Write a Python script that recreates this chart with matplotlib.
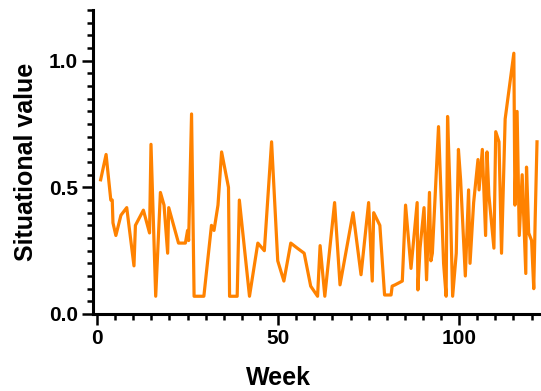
import matplotlib
matplotlib.use("Agg")
import matplotlib.pyplot as plt
from matplotlib.ticker import MultipleLocator

plt.rcParams['font.family'] = ['Liberation Sans', 'DejaVu Sans']
plt.rcParams['font.weight'] = 'bold'

# data
week = [1, 2.5, 3.8, 4.2, 4.4, 5.2, 6.6, 8.2, 10.2, 10.6, 12.8, 14.5, 14.9, 16.2,
        17.5, 18.5, 19.5, 19.8, 22.5, 24.4, 25.0, 25.3, 26.1, 26.8, 29.5, 31.6,
        32.3, 33.4, 34.4, 36.3, 36.6, 38.7, 39.3, 42.1, 44.4, 46.2, 48.2, 49.9,
        51.6, 53.5, 55.3, 57.2, 59.0, 60.9, 61.6, 62.9, 65.6, 67.1, 70.7, 72.9,
        75.0, 76.0, 76.4, 78.1, 79.4, 81.2, 81.5, 82.3, 84.3, 85.2, 86.7, 88.4,
        88.6, 89.2, 90.3, 91.0, 91.8, 92.2, 92.6, 94.3, 95.7, 96.4, 96.8, 97.5,
        98.2, 99.2, 99.8, 100.4, 101.7, 102.6, 103.0, 104.0, 105.2, 105.5, 106.4,
        107.3, 107.7, 108.2, 109.6, 110.1, 111.0, 111.7, 112.7, 115.1, 115.4,
        116.0, 116.6, 117.4, 118.4, 118.6, 119.2, 120.0, 120.6, 121.0, 121.5]
value = [0.53, 0.63, 0.45, 0.45, 0.36, 0.31, 0.39, 0.42, 0.19, 0.35, 0.41, 0.32, 0.67, 0.07,
         0.48, 0.43, 0.24, 0.42, 0.28, 0.28, 0.33, 0.29, 0.79, 0.07, 0.07, 0.35,
         0.33, 0.43, 0.64, 0.50, 0.07, 0.07, 0.45, 0.07, 0.28, 0.25, 0.68, 0.21,
         0.13, 0.28, 0.26, 0.24, 0.11, 0.07, 0.27, 0.07, 0.44, 0.115, 0.40, 0.155,
         0.44, 0.13, 0.40, 0.35, 0.075, 0.075, 0.11, 0.115, 0.13, 0.43, 0.18, 0.44,
         0.095, 0.26, 0.42, 0.135, 0.48, 0.21, 0.24, 0.74, 0.20, 0.07, 0.78, 0.47,
         0.07, 0.24, 0.65, 0.53, 0.15, 0.49, 0.20, 0.44, 0.61, 0.49, 0.65,
         0.31, 0.64, 0.47, 0.26, 0.72, 0.68, 0.24, 0.77, 1.03, 0.43,
         0.80, 0.31, 0.55, 0.16, 0.58, 0.32, 0.29, 0.10, 0.38, 0.68]

fig = plt.figure(figsize=(5.41, 3.91), dpi=100)
ax = fig.add_axes([0.172, 0.197, 0.828, 0.777])

ax.plot(week, value, color='#ff8200', linewidth=2.3)

ax.set_xlim(-1.1, 122.6)
ax.set_ylim(0, 1.2)
ax.xaxis.set_major_locator(MultipleLocator(50))
ax.xaxis.set_minor_locator(MultipleLocator(5))
ax.yaxis.set_minor_locator(MultipleLocator(0.05))
ax.set_yticks([0, 0.5, 1.0])
ax.set_yticklabels(['0.0', '0.5', '1.0'])

for s in ['top', 'right']:
    ax.spines[s].set_visible(False)
for s in ['left', 'bottom']:
    ax.spines[s].set_linewidth(2.2)

ax.tick_params(which='major', direction='out', length=8, width=1.8, labelsize=15, pad=3)
ax.tick_params(which='minor', direction='out', length=4.5, width=1.8)

ax.set_xlabel('Week', fontsize=18, fontweight='bold')
ax.xaxis.set_label_coords(0.415, -0.172)
ax.set_ylabel('Situational value', fontsize=18, fontweight='bold', labelpad=8)

fig.savefig('out.png', dpi=100)
